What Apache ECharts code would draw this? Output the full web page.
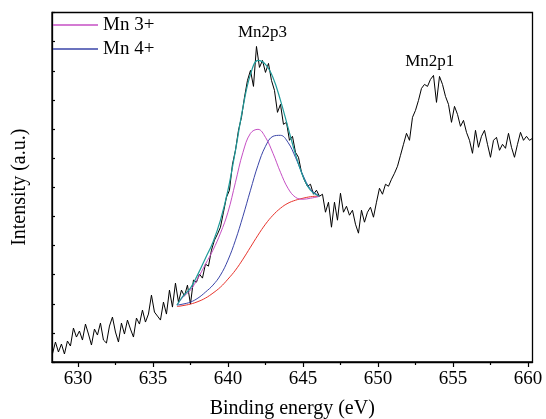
<!DOCTYPE html>
<html>
<head>
<meta charset="utf-8">
<script src="https://cdn.jsdelivr.net/npm/echarts@6/dist/echarts.min.js"></script>
<style>html,body{margin:0;padding:0;background:#fff}#c{width:546px;height:419px}</style>
</head>
<body>
<div id="c"></div>
<script>
// Binding energy grid of the measured spectrum (eV)
const energy = [
628.3,628.5,628.7,628.9,629.1,629.3,629.5,629.7,629.9,630.1,
630.3,630.5,630.7,630.9,631.1,631.3,631.5,631.7,631.9,632.1,
632.3,632.5,632.7,632.9,633.1,633.3,633.5,633.7,633.9,634.1,
634.3,634.5,634.7,634.9,635.1,635.3,635.5,635.7,635.9,636.1,
636.3,636.5,636.7,636.9,637.1,637.3,637.5,637.7,637.9,638.1,
638.3,638.5,638.7,638.9,639.1,639.3,639.5,639.7,639.9,640.1,
640.3,640.5,640.7,640.9,641.1,641.3,641.5,641.7,641.9,642.1,
642.3,642.5,642.7,642.9,643.1,643.3,643.5,643.7,643.9,644.1,
644.3,644.5,644.7,644.9,645.1,645.3,645.5,645.7,645.9,646.1,
646.3,646.5,646.7,646.9,647.1,647.3,647.5,647.7,647.9,648.1,
648.3,648.5,648.7,648.9,649.1,649.3,649.5,649.7,649.9,650.1,
650.3,650.5,650.7,650.9,651.1,651.3,651.5,651.7,651.9,652.1,
652.3,652.5,652.7,652.9,653.1,653.3,653.5,653.7,653.9,654.1,
654.3,654.5,654.7,654.9,655.1,655.3,655.5,655.7,655.9,656.1,
656.3,656.5,656.7,656.9,657.1,657.3,657.5,657.7,657.9,658.1,
658.3,658.5,658.7,658.9,659.1,659.3,659.5,659.7,659.9,660.1,
660.3];
// Measured intensity (a.u.)
const intensity = [
8,20,10,18,8,21,16,34,25,31,
22,38,28,17,33,27,39,22,19,36,
45,30,20,39,28,42,33,25,44,38,
52,40,48,67,50,46,42,60,48,72,
55,79,60,72,66,77,58,82,80,88,
84,98,96,112,122,128,135,150,165,172,
198,212,232,245,265,282,292,276,316,295,
302,290,299,282,272,250,258,238,240,222,
226,210,205,190,182,176,178,168,172,166,
168,150,160,135,160,142,169,150,156,147,
152,138,129,152,140,150,155,145,160,174,
168,178,176,183,189,196,207,218,229,222,
245,252,262,274,278,276,283,287,260,286,
278,266,258,240,256,248,236,242,230,222,
209,232,215,226,232,218,205,222,225,212,
218,214,229,215,205,218,230,222,226,222,
224];
// Fitted curves (Mn 2p3/2 region)
const fitEnergy = [636.6,637,637.5,638,638.5,639,639.5,640,640.5,641,641.5,642,642.5,643,643.5,644,644.5,645,645.5,646,646.1];
const background = [55.5,56.5,58,60.5,64,69,75,83,92,103,115,127,138,147,154,159,162,164,165.5,166,166];
const mn4 = [57,58,60,64,70,77,87,102,122,146,172,197,216,226,227,220,205,187,173,167,166];
const mn3 = [57,65,72,84,98,112,129,150,180,210,229,233,225,209,190,174,165,163,164,165.5,166];
const envelope = [57,66,74,88,104,120,142,172,212,255,288,302,298,285,262,235,208,186,172,166.5,166];
// Axis ticks
const xTickLabels = [630,635,640,645,650,655,660];
const xMinorTicks = [632.5,637.5,642.5,647.5,652.5,657.5];
const seriesNames = ['Mn 3+','Mn 4+'];
const peakNames = ['Mn2p3','Mn2p1'];

const pair = (xs, ys) => xs.map((x, i) => [x, ys[i]]);
const FONT = 'Liberation Serif';

const chart = echarts.init(document.getElementById('c'));
chart.setOption({
  animation: false,
  backgroundColor: '#fff',
  grid: { left: 52, right: 13.5, top: 12.5, bottom: 57, show: true, borderColor: '#000', borderWidth: 1.3,
          backgroundColor: 'transparent', containLabel: false, outerBoundsMode: 'none' },
  legend: {
    data: seriesNames,
    orient: 'vertical',
    left: 53, top: 15, padding: 0,
    icon: 'rect',
    itemWidth: 45, itemHeight: 1.3, itemGap: 4,
    textStyle: { fontFamily: FONT, fontSize: 19, color: '#000', lineHeight: 20 }
  },
  xAxis: [{
    type: 'value', min: 628.27, max: 660.3,
    name: 'Binding energy (eV)', nameLocation: 'middle', nameGap: 37,
    nameTextStyle: { fontFamily: FONT, fontSize: 20, color: '#000' },
    axisLine: { show: true, lineStyle: { color: '#000', width: 1.3 } },
    axisTick: { show: true, inside: false, length: 5, customValues: xTickLabels, lineStyle: { color: '#000', width: 1.2 } },
    axisLabel: { show: true, customValues: xTickLabels, fontFamily: FONT, fontSize: 19, color: '#000', margin: 8 },
    splitLine: { show: false }
  }, {
    type: 'value', min: 628.27, max: 660.3, position: 'bottom',
    axisLine: { show: false },
    axisTick: { show: true, inside: false, length: 3, customValues: xMinorTicks, lineStyle: { color: '#000', width: 1.2 } },
    axisLabel: { show: false },
    splitLine: { show: false }
  }],
  yAxis: {
    type: 'value', min: 0, max: 350, interval: 350 / 12,
    name: 'Intensity (a.u.)', nameLocation: 'middle', nameGap: 22,
    nameTextStyle: { fontFamily: FONT, fontSize: 20, color: '#000' },
    axisLine: { show: true, lineStyle: { color: '#000', width: 1.3 } },
    axisTick: { show: true, inside: true, length: 3, lineStyle: { color: '#000', width: 1.2 } },
    axisLabel: { show: false },
    splitLine: { show: false }
  },
  series: [
    {
      name: 'Data', type: 'line', data: pair(energy, intensity), symbol: 'none',
      lineStyle: { color: '#000', width: 1 }, itemStyle: { color: '#000' }, z: 2,
      markPoint: {
        symbol: 'circle', symbolSize: 0,
        label: { show: true, formatter: '{b}', position: 'inside', fontFamily: FONT, fontSize: 17, color: '#000' },
        data: [
          { name: peakNames[0], coord: [642.3, 330] },
          { name: peakNames[1], coord: [653.45, 301] }
        ]
      }
    },
    { name: 'Background', type: 'line', data: pair(fitEnergy, background), symbol: 'none', smooth: 0.4,
      lineStyle: { color: '#e8342c', width: 1 }, itemStyle: { color: '#e8342c' }, z: 3 },
    { name: seriesNames[1], type: 'line', data: pair(fitEnergy, mn4), symbol: 'none', smooth: 0.4,
      lineStyle: { color: '#3a45a8', width: 1 }, itemStyle: { color: '#3a45a8' }, z: 3 },
    { name: seriesNames[0], type: 'line', data: pair(fitEnergy, mn3), symbol: 'none', smooth: 0.4,
      lineStyle: { color: '#c64fc4', width: 1 }, itemStyle: { color: '#c64fc4' }, z: 3 },
    { name: 'Envelope', type: 'line', data: pair(fitEnergy, envelope), symbol: 'none', smooth: 0.4,
      lineStyle: { color: '#1f9a9a', width: 1.2 }, itemStyle: { color: '#1f9a9a' }, z: 4 }
  ]
});
</script>
</body>
</html>
